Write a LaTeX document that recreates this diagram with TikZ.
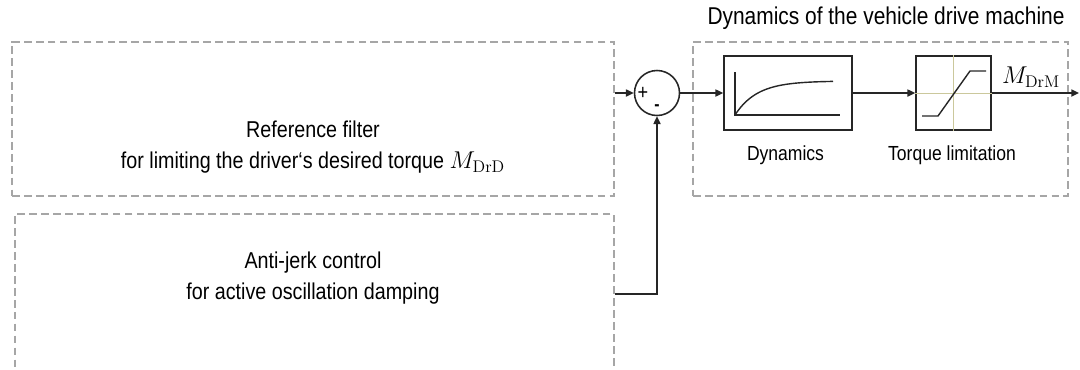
\documentclass[tikz,border=0pt]{standalone}
\usepackage[no-math]{fontspec}
\setmainfont{Liberation Sans}[FakeStretch=0.86]
\usepackage{tikz}
\usetikzlibrary{arrows.meta, positioning, calc}
\definecolor{dashc}{HTML}{A6A6A6}
\definecolor{linec}{HTML}{262626}
\definecolor{xhair}{HTML}{CBC89C}
\newcommand{\mathbig}[1]{{\fontsize{18}{20}\selectfont$#1$}}
\tikzset{
  dashbox/.style={draw=dashc, line width=1.1pt, dash pattern=on 5.5pt off 3pt,
    inner sep=0pt},
  blockbox/.style={draw=linec, line width=1.1pt, inner sep=0pt,
    minimum height=1.85cm},
  lbl/.style={font=\fontsize{16.3}{22}\selectfont, align=center, inner sep=0pt},
  sublbl/.style={font=\fontsize{14.5}{18}\selectfont, inner sep=0pt}
}
\begin{document}
\begin{tikzpicture}[x=0.025cm, y=-0.025cm, >={Triangle[length=5.5pt,width=5pt]},
    line width=1.1pt, linec]
  \useasboundingbox (0,0) rectangle (1080,369);
  \clip (0,0) rectangle (1080,369);
  % left part: reference filter and anti-jerk control
  \node[dashbox, minimum width=15.05cm, minimum height=3.85cm] (ref) at (313,119) {};
  \node[lbl, black] (refTxt) at (313,147)
    {Reference filter\\for limiting the driver‘s desired torque \mathbig{M_{\mathrm{DrD}}}};
  \node[dashbox, minimum width=14.975cm, minimum height=4.65cm] (aj) at (314.5,307) {};
  \node[lbl, black] (ajTxt) at (313,278)
    {Anti-jerk control\\for active oscillation damping};
  % summation point
  \node[circle, draw=linec, minimum size=1.125cm, inner sep=0pt] (sum) at (657,93) {};
  \node[font=\fontsize{15}{16}\selectfont, black, inner sep=0pt] (plus) at (643,93) {+};
  \node[font=\fontsize{13}{14}\selectfont\bfseries, black, inner sep=0pt] (minus) at (657,108) {-};
  % vehicle drive machine
  \node[dashbox, minimum width=9.375cm, minimum height=3.85cm] (drv) at (880.5,119) {};
  \node[lbl, black, font=\fontsize{17.3}{20}\selectfont] (drvTxt) at (886,18)
    {Dynamics of the vehicle drive machine};
  \node[blockbox, minimum width=3.2cm] (dyn) at (788,93) {};
  \node[sublbl, black] (dynTxt) at (785.5,155) {Dynamics};
  \node[blockbox, minimum width=1.875cm] (lim) at (953.5,93) {};
  \node[sublbl, black] (limTxt) at (952,155) {Torque limitation};
  % curves in the blocks
  \draw[line width=1pt] (735,72) -- (735,115) -- (840,115);
  \draw[line width=1pt] plot[domain=0:98, samples=40]
    ({735+\x},{115-34*(1-exp(-\x/22))});
  \draw[xhair, line width=0.6pt] (lim.north) -- (lim.south);
  \draw[xhair, line width=0.6pt] (lim.west) -- (lim.east);
  \draw[line width=1pt] (922,116) -- (938,116) -- (970,71) -- (986,71);
  % connections
  \coordinate (out) at (1079,93);
  \draw[->] (sum.west -| ref.east) -- (sum.west);
  \draw[->] (aj.east |- 0,294) -| (sum.south);
  \draw[->] (sum.east) -- (dyn.west);
  \draw[->] (dyn.east) -- (lim.west);
  \draw[->] (lim.east) -- (out);
  \node[black, inner sep=0pt] (mOut) at (1031,77) {\mathbig{M_{\mathrm{DrM}}}};
\end{tikzpicture}
\end{document}
